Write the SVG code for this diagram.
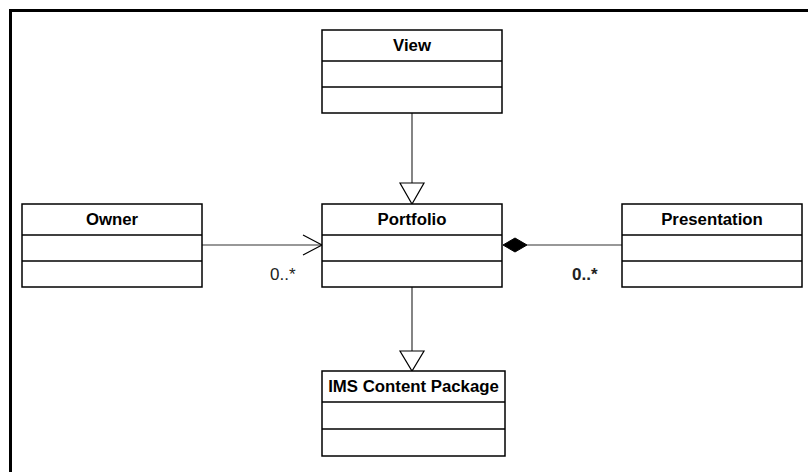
<svg xmlns="http://www.w3.org/2000/svg" width="808" height="472" viewBox="0 0 808 472">
<style>
.box{fill:#fff;stroke:#000;stroke-width:1.5}
.sep{stroke:#000;stroke-width:1.5}
.name{font-family:"Liberation Sans",Arial,sans-serif;font-weight:bold;font-size:16.8px;text-anchor:middle;fill:#000}
.edge{stroke:#333;stroke-width:1.2;fill:none}
.mult{font-family:"Liberation Sans",Arial,sans-serif;font-size:17px;fill:#222}
</style>
<rect width="808" height="472" fill="#fff"/>
<path d="M10.5 480 V10.5 H820" fill="none" stroke="#000" stroke-width="3"/>
<g id="connectors">
  <line class="edge" x1="412" y1="113" x2="412" y2="183"/>
  <polygon points="400,183 424,183 412,204" fill="#fff" stroke="#000" stroke-width="1.2"/>
  <line class="edge" x1="412" y1="287" x2="412" y2="351"/>
  <polygon points="400,351 424,351 412,371" fill="#fff" stroke="#000" stroke-width="1.2"/>
  <line class="edge" x1="202" y1="245" x2="322" y2="245"/>
  <polyline points="303,235 322,245 303,255" fill="none" stroke="#000" stroke-width="1.2"/>
  <line class="edge" x1="527" y1="245" x2="622" y2="245"/>
  <polygon points="503,245 515,238 527,245 515,252" fill="#000" stroke="#000" stroke-width="1"/>
  <text class="mult" x="270" y="280">0..*</text>
  <text class="mult" x="572" y="280" font-weight="bold" fill="#000">0..*</text>
</g>
<g id="view">
  <rect class="box" x="322" y="30" width="180" height="83"/>
  <line class="sep" x1="322" y1="61" x2="502" y2="61"/>
  <line class="sep" x1="322" y1="87" x2="502" y2="87"/>
  <text class="name" x="412" y="51">View</text>
</g>
<g id="owner">
  <rect class="box" x="22" y="204" width="180" height="83"/>
  <line class="sep" x1="22" y1="235" x2="202" y2="235"/>
  <line class="sep" x1="22" y1="261" x2="202" y2="261"/>
  <text class="name" x="112" y="225">Owner</text>
</g>
<g id="portfolio">
  <rect class="box" x="322" y="204" width="180" height="83"/>
  <line class="sep" x1="322" y1="235" x2="502" y2="235"/>
  <line class="sep" x1="322" y1="261" x2="502" y2="261"/>
  <text class="name" x="412" y="225">Portfolio</text>
</g>
<g id="presentation">
  <rect class="box" x="622" y="204" width="180" height="83"/>
  <line class="sep" x1="622" y1="235" x2="802" y2="235"/>
  <line class="sep" x1="622" y1="261" x2="802" y2="261"/>
  <text class="name" x="712" y="225">Presentation</text>
</g>
<g id="ims">
  <rect class="box" x="322" y="371" width="183" height="85"/>
  <line class="sep" x1="322" y1="402" x2="505" y2="402"/>
  <line class="sep" x1="322" y1="429" x2="505" y2="429"/>
  <text class="name" x="413.5" y="392">IMS Content Package</text>
</g>
</svg>
